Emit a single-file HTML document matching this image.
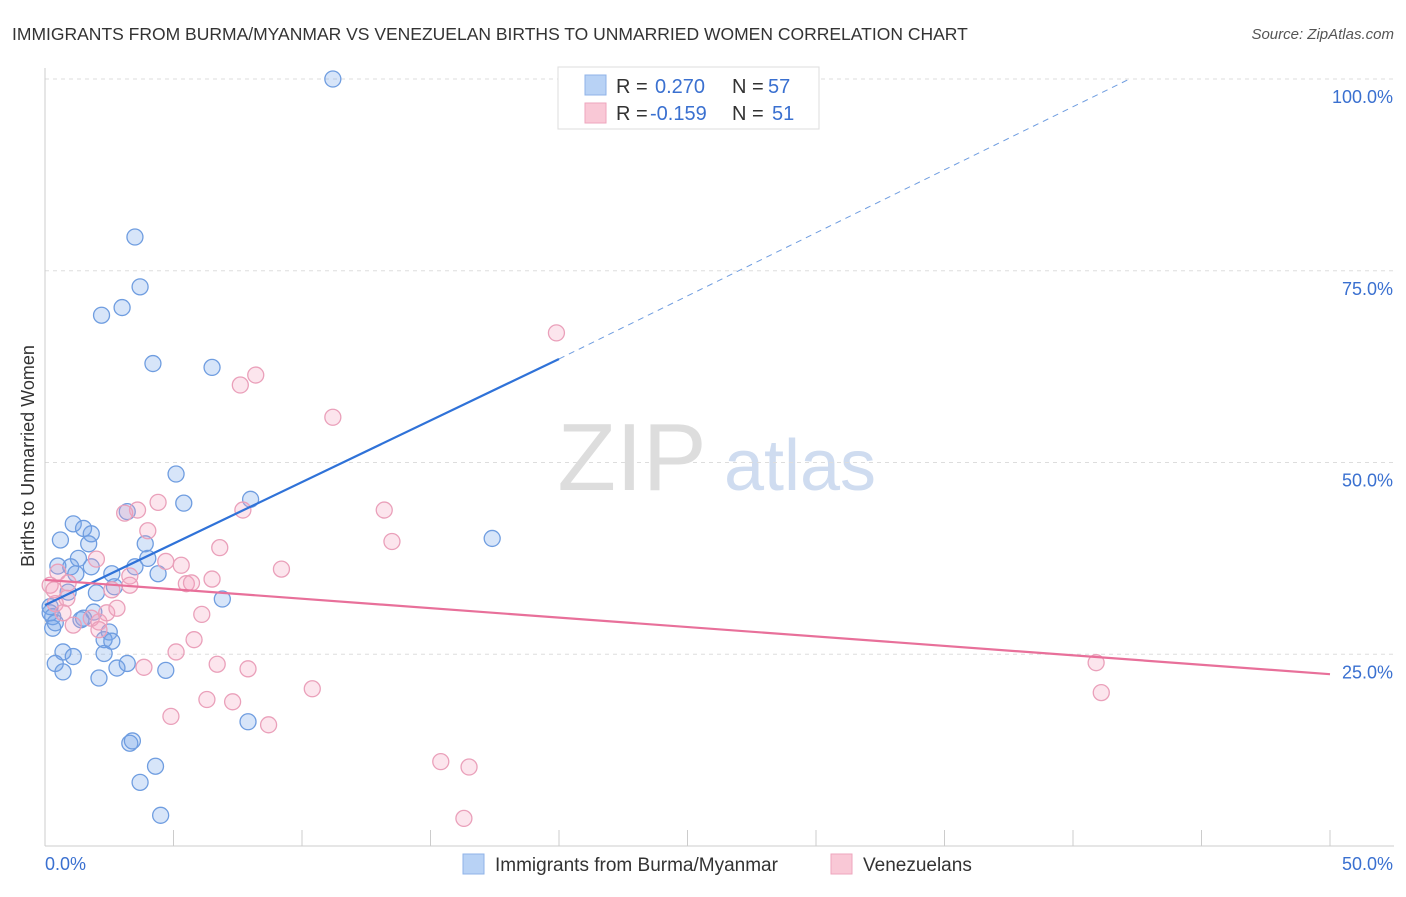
<!DOCTYPE html>
<html><head><meta charset="utf-8"><style>
body{margin:0;background:#fff;font-family:"Liberation Sans",sans-serif;}
svg text{font-family:"Liberation Sans",sans-serif;}
</style></head><body>
<svg id="chart" width="1406" height="892" xmlns="http://www.w3.org/2000/svg">
<text x="12" y="40" font-size="17.5" fill="#333">IMMIGRANTS FROM BURMA/MYANMAR VS VENEZUELAN BIRTHS TO UNMARRIED WOMEN CORRELATION CHART</text>
<text x="1394" y="39" font-size="15" fill="#555" text-anchor="end" font-style="italic">Source: ZipAtlas.com</text>
<text transform="translate(34,456) rotate(-90)" font-size="18" fill="#333" text-anchor="middle">Births to Unmarried Women</text>
<g><text x="632" y="490" font-size="96" fill="#ddd" text-anchor="middle" font-family="Liberation Serif">ZIP</text><text x="800" y="490" font-size="72" fill="#cfdcf0" text-anchor="middle">atlas</text></g>
<g id="grid"></g><g id="marks"></g>
<g>
<rect x="558" y="67" width="261" height="62" fill="#fff" stroke="#ddd"/>
<rect x="585" y="75" width="21" height="20" fill="#b8d2f5" stroke="#8fb3e8"/>
<rect x="585" y="103" width="21" height="20" fill="#f9c8d6" stroke="#eea6bd"/>
<text x="616" y="93" font-size="20" fill="#333">R = </text><text x="655" y="93" font-size="20" fill="#3a70d0">0.270</text>
<text x="732" y="93" font-size="20" fill="#333">N = </text><text x="768" y="93" font-size="20" fill="#3a70d0">57</text>
<text x="616" y="120" font-size="20" fill="#333">R = </text><text x="650" y="120" font-size="20" fill="#3a70d0">-0.159</text>
<text x="732" y="120" font-size="20" fill="#333">N = </text><text x="772" y="120" font-size="20" fill="#3a70d0">51</text>
</g>
<g>
<rect x="463" y="854" width="21" height="20" fill="#b8d2f5" stroke="#8fb3e8"/>
<text x="495" y="871" font-size="19" fill="#333">Immigrants from Burma/Myanmar</text>
<rect x="831" y="854" width="21" height="20" fill="#f9c8d6" stroke="#eea6bd"/>
<text x="863" y="871" font-size="19" fill="#333">Venezuelans</text>
</g>
</svg>
<script>
const yTicks=[25,50,75,100];
const yTickLabels=["25.0%","50.0%","75.0%","100.0%"];
const xLabels=["0.0%","50.0%"];
const blueX=[11.2,3.5,3.7,2.2,3.0,4.2,6.5,5.1,5.4,8.0,3.2,17.4,1.1,1.5,1.8,0.6,1.7,3.9,1.3,0.5,1.0,1.8,3.5,1.2,2.6,4.4,4.0,0.9,2.0,2.7,6.9,0.2,1.9,1.5,1.4,0.3,0.3,2.5,2.3,2.6,0.7,2.3,1.1,0.4,3.2,2.8,4.7,0.7,2.1,7.9,3.3,3.4,4.3,3.7,4.5,0.2,0.4];
const blueY=[100,79.4,72.9,69.2,70.2,62.9,62.4,48.5,44.7,45.2,43.6,40.1,42.0,41.4,40.7,39.9,39.4,39.4,37.5,36.5,36.4,36.4,36.4,35.5,35.5,35.5,37.5,33.1,33.0,33.8,32.2,31.2,30.5,29.7,29.5,29.9,28.4,27.9,26.9,26.7,25.3,25.1,24.7,23.8,23.8,23.2,22.9,22.7,21.9,16.2,13.4,13.7,10.4,8.3,4.0,30.4,29.1];
const pinkX=[19.9,8.2,7.6,11.2,4.4,3.6,3.1,7.7,13.2,4.0,6.8,13.5,2.0,4.7,5.3,9.2,0.5,3.3,0.9,3.3,5.5,5.7,6.5,0.2,0.35,2.6,0.85,2.4,2.8,6.1,2.1,1.1,1.8,5.8,5.1,6.7,3.85,7.9,10.4,6.3,7.3,4.9,8.7,15.4,16.5,16.3,40.9,41.1,0.4,0.7,2.1];
const pinkY=[66.9,61.4,60.1,55.9,44.8,43.8,43.4,43.8,43.8,41.1,38.9,39.7,37.4,37.1,36.6,36.1,35.7,35.2,34.3,34.0,34.2,34.3,34.8,34.0,33.4,33.4,32.3,30.4,31.0,30.2,29.2,28.8,29.7,26.9,25.3,23.7,23.3,23.1,20.5,19.1,18.8,16.9,15.8,11.0,10.3,3.6,23.9,20.0,31.6,30.4,28.2];
const blueTrend=[31.4,63.5,42.2];
const pinkTrend=[34.7,22.4];
const X=v=>45+v*25.7, Y=v=>846-v*7.67;
const ns="http://www.w3.org/2000/svg";
const grid=document.getElementById('grid'), marks=document.getElementById('marks');
function mk(tag,attrs,parent){const e=document.createElementNS(ns,tag);for(const k in attrs)e.setAttribute(k,attrs[k]);parent.appendChild(e);return e;}
yTicks.forEach((t,i)=>{
 const l=mk('line',{x1:45,x2:1394,y1:Y(t),y2:Y(t),stroke:'#ddd','stroke-dasharray':'4,4'},grid);
 
 
 const tx=mk('text',{x:1393,y:Y(t)+24,'font-size':18,fill:'#3a70d0','text-anchor':'end'},grid);
 tx.textContent=yTickLabels[i];
 
 
});
const ax=mk('line',{x1:45,x2:1394,y1:846,y2:846,stroke:'#ccc'},grid);


const ay=mk('line',{x1:45,x2:45,y1:68,y2:846,stroke:'#ccc'},grid);


for(let i=0;i<=10;i++){const t=mk('line',{x1:X(i*5),x2:X(i*5),y1:830,y2:846,stroke:'#ccc'},grid);
 
 }
[[0,45,'start'],[50,1393,'end']].forEach((d,i)=>{const t=mk('text',{x:d[1],y:870,'font-size':18,fill:'#3a70d0','text-anchor':d[2]},grid);t.textContent=xLabels[i];
 
 });
blueX.forEach((x,i)=>{const c=mk('circle',{cx:X(x),cy:Y(blueY[i]),r:8,fill:'rgba(110,160,235,0.28)',stroke:'#6f9de0','stroke-width':1.3},marks);
 
 });
pinkX.forEach((x,i)=>{const c=mk('circle',{cx:X(x),cy:Y(pinkY[i]),r:8,fill:'rgba(245,160,190,0.28)',stroke:'#eaa0ba','stroke-width':1.3},marks);
 
 });
const bl=mk('line',{x1:X(0),y1:Y(blueTrend[0]),x2:X(20),y2:Y(blueTrend[1]),stroke:'#2f72d8','stroke-width':2.2},marks);


const bd=mk('line',{x1:X(20),y1:Y(blueTrend[1]),x2:X(blueTrend[2]),y2:Y(100),stroke:'#6f9de0','stroke-width':1,'stroke-dasharray':'6,5'},marks);


const pl=mk('line',{x1:X(0),y1:Y(pinkTrend[0]),x2:X(50),y2:Y(pinkTrend[1]),stroke:'#e8709a','stroke-width':2.2},marks);


</script>
</body></html>
